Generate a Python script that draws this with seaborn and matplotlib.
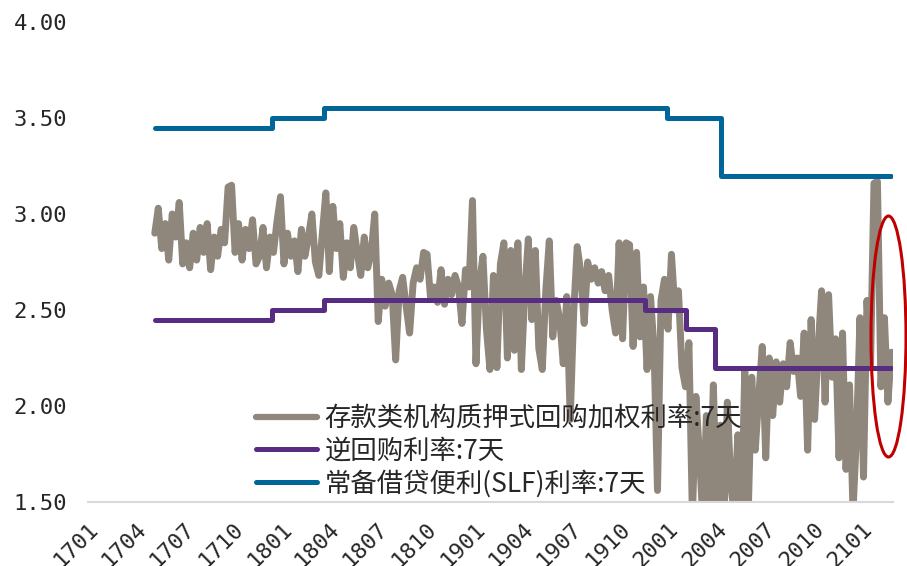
import matplotlib
matplotlib.use('Agg')
import matplotlib.pyplot as plt
import seaborn as sns
import pandas as pd
from matplotlib.patches import Ellipse
from matplotlib.lines import Line2D

# ---------------- data ----------------
series_names = ["存款类机构质押式回购加权利率:7天", "逆回购利率:7天", "常备借贷便利(SLF)利率:7天"]

dr007_start = "2017-05-07"
dr007_end = "2021-02-25"
dr007 = [
    2.90, 3.03, 2.82, 2.95, 2.76, 3.00, 2.88, 3.06, 2.74, 2.85,
    2.72, 2.90, 2.76, 2.93, 2.80, 2.95, 2.71, 2.88, 2.78, 2.92,
    2.85, 3.14, 3.15, 2.80, 2.95, 2.76, 2.92, 2.82, 2.97, 2.74,
    2.78, 2.93, 2.72, 2.88, 2.80, 2.96, 3.09, 2.74, 2.90, 2.78,
    2.86, 2.70, 2.92, 2.78, 2.88, 3.00, 2.75, 2.68, 2.90, 3.11,
    2.70, 3.04, 2.82, 2.95, 2.67, 2.85, 2.72, 2.93, 2.80, 2.68,
    2.88, 2.72, 2.80, 3.00, 2.44, 2.66, 2.52, 2.64, 2.58, 2.24,
    2.60, 2.67, 2.52, 2.38, 2.64, 2.72, 2.66, 2.80, 2.79, 2.56,
    2.62, 2.54, 2.71, 2.53, 2.66, 2.58, 2.68, 2.62, 2.43, 2.71,
    2.62, 3.07, 2.22, 2.64, 2.78, 2.40, 2.19, 2.68, 2.20, 2.74,
    2.85, 2.25, 2.81, 2.29, 2.85, 2.19, 2.60, 2.87, 2.45, 2.81,
    2.30, 2.19, 2.60, 2.86, 2.36, 2.55, 2.45, 2.22, 2.57, 1.93,
    2.49, 2.83, 2.70, 2.43, 2.75, 2.66, 2.72, 2.64, 2.70, 2.60,
    2.68, 2.50, 2.38, 2.85, 2.35, 2.85, 2.84, 2.31, 2.80, 2.36,
    2.62, 2.19, 2.57, 2.30, 1.56, 2.55, 2.66, 2.40, 2.79, 2.50,
    2.60, 2.20, 2.10, 2.33, 1.42, 2.05, 1.75, 1.40, 1.95, 1.48,
    2.11, 1.45, 1.90, 1.38, 2.02, 1.60, 1.42, 1.85, 1.40, 2.19,
    1.45, 2.15, 1.77, 2.05, 2.31, 1.73, 2.25, 1.95, 2.23, 2.02,
    2.22, 2.10, 2.33, 2.18, 2.25, 2.05, 2.38, 1.77, 2.45, 1.93,
    2.30, 2.60, 2.02, 2.58, 2.15, 2.35, 1.73, 2.38, 1.67, 2.11,
    1.45, 1.85, 2.46, 1.63, 2.55, 2.20, 3.16, 3.17, 2.10, 2.46,
    2.02, 2.28,
]

repo_dates = ["2017-05-07", "2017-12-14", "2018-03-22", "2019-11-18",
              "2020-02-03", "2020-03-30", "2021-02-25"]
repo_rates = [2.45, 2.50, 2.55, 2.50, 2.40, 2.20, 2.20]

slf_dates = ["2017-05-07", "2017-12-14", "2018-03-22", "2019-12-30",
             "2020-04-10", "2021-02-25"]
slf_rates = [3.45, 3.50, 3.55, 3.50, 3.20, 3.20]

x_tick_labels = ["1701", "1704", "1707", "1710", "1801", "1804", "1807", "1810",
                 "1901", "1904", "1907", "1910", "2001", "2004", "2007", "2010", "2101"]
y_ticks = [1.50, 2.00, 2.50, 3.00, 3.50, 4.00]
y_tick_labels = ["1.50", "2.00", "2.50", "3.00", "3.50", "4.00"]

# ---------------- style ----------------
c_gray = "#8F877C"
c_purple = "#582C83"
c_blue = "#006699"

sns.set_theme(style="white")
plt.rcParams['font.family'] = ['Noto Sans CJK SC', 'DejaVu Sans']

fig = plt.figure(figsize=(9.07, 5.66), dpi=100)
ax = fig.add_axes([88 / 907, 64 / 566, 805 / 907, 480 / 566])

dr_dates = pd.date_range(dr007_start, dr007_end, periods=len(dr007))
sns.lineplot(x=dr_dates, y=dr007, ax=ax, color=c_gray, lw=5.0,
             solid_capstyle='round', solid_joinstyle='round', sort=False)
sns.lineplot(x=pd.to_datetime(repo_dates), y=repo_rates, ax=ax, color=c_purple, lw=3.6,
             drawstyle='steps-post', solid_capstyle='round', solid_joinstyle='round', sort=False)
sns.lineplot(x=pd.to_datetime(slf_dates), y=slf_rates, ax=ax, color=c_blue, lw=3.6,
             drawstyle='steps-post', solid_capstyle='round', solid_joinstyle='round', sort=False)

ax.set_xlim(pd.Timestamp("2017-01-01"), pd.Timestamp("2021-02-28"))
ax.set_ylim(1.5, 4.0)

tick_dates = pd.date_range("2017-01-01", periods=len(x_tick_labels), freq="3MS")
ax.set_xticks(tick_dates)
ax.set_xticklabels(x_tick_labels, rotation=45, ha='right', rotation_mode='anchor',
                   fontsize=16, family=['DejaVu Sans Mono'])
ax.set_yticks(y_ticks)
ax.set_yticklabels(y_tick_labels, fontsize=16, family=['DejaVu Sans Mono'])
ax.tick_params(axis='x', direction='in', length=6, width=1, color='#D9D9D9', pad=12)
ax.tick_params(axis='y', length=0, pad=15)
ax.set_xlabel("")
ax.set_ylabel("")
ax.grid(False)
for s in ['left', 'top', 'right']:
    ax.spines[s].set_visible(False)
ax.spines['bottom'].set_color('#D9D9D9')
ax.spines['bottom'].set_linewidth(1.5)

handles = [Line2D([0], [0], color=c, lw=4.5 if i == 0 else 3.6, solid_capstyle='round')
           for i, c in enumerate([c_gray, c_purple, c_blue])]
leg = ax.legend(handles, series_names, loc='upper left',
                bbox_to_anchor=(256 / 907, (566 - 405) / 566), bbox_transform=fig.transFigure,
                frameon=False, fontsize=19, handlelength=2.3, handletextpad=0.3,
                labelspacing=0.2, borderpad=0, borderaxespad=0)

fig.add_artist(Ellipse((8.885, 2.295), 0.35, 2.41, transform=fig.dpi_scale_trans,
                       fill=False, edgecolor='#C00000', lw=2.2, clip_on=False))

fig.savefig("out.png", dpi=100)
